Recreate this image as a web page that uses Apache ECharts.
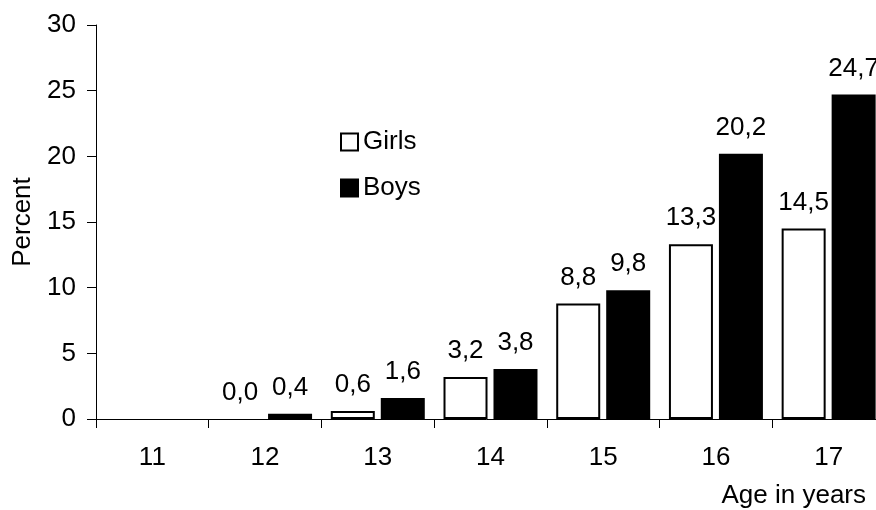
<!DOCTYPE html>
<html>
<head>
<meta charset="utf-8">
<script src="https://cdn.jsdelivr.net/npm/echarts@6/dist/echarts.min.js"></script>
<style>html,body{margin:0;padding:0;background:#fff}#c{width:876px;height:510px}</style>
</head>
<body>
<div id="c"></div>
<script>
var categories = ['11', '12', '13', '14', '15', '16', '17'];
var girls = [null, 0.0, 0.6, 3.2, 8.8, 13.3, 14.5];
var boys = [null, 0.4, 1.6, 3.8, 9.8, 20.2, 24.7];
var yTicks = [0, 5, 10, 15, 20, 25, 30];

var FONT = 'Liberation Sans';
var FS = 26;
function fmt(p) { return p.value == null ? '' : p.value.toFixed(1).replace('.', ','); }
// zero-height bars get no outline (nothing visible in the reference)
function prep(arr) {
  return arr.map(function (v) { return v === 0 ? {value: v, itemStyle: {borderWidth: 0}} : v; });
}

var chart = echarts.init(document.getElementById('c'), null, {renderer: 'canvas'});
chart.setOption({
  backgroundColor: '#ffffff',
  animation: false,
  textStyle: {fontFamily: FONT, color: '#000'},
  grid: {left: 96, top: 25, height: 394, width: 789, containLabel: false, outerBoundsMode: 'none'},
  legend: {
    orient: 'vertical', left: 340, top: 129, padding: 0,
    itemWidth: 17, itemHeight: 17, itemGap: 20,
    icon: 'rect',
    textStyle: {fontFamily: FONT, fontSize: FS, color: '#000'},
    data: ['Girls', 'Boys']
  },
  xAxis: {
    type: 'category', data: categories,
    axisLine: {lineStyle: {color: '#000', width: 1}},
    axisTick: {show: true, length: 9, lineStyle: {color: '#000'}},
    axisLabel: {fontFamily: FONT, fontSize: FS, color: '#000', margin: 26}
  },
  yAxis: {
    type: 'value', min: yTicks[0], max: yTicks[yTicks.length - 1], interval: 5,
    name: 'Percent', nameLocation: 'middle', nameRotate: 90, nameGap: 59,
    nameTextStyle: {fontFamily: FONT, fontSize: FS, color: '#000'},
    axisLine: {show: true, lineStyle: {color: '#000', width: 1}},
    axisTick: {show: true, length: 9, lineStyle: {color: '#000'}},
    splitLine: {show: false},
    axisLabel: {fontFamily: FONT, fontSize: FS, color: '#000', margin: 20}
  },
  graphic: [{
    type: 'text', right: 10, top: 483,
    style: {text: 'Age in years', fontFamily: FONT, fontSize: FS, fill: '#000'}
  }],
  series: [{
    name: 'Girls', type: 'bar', data: prep(girls), barWidth: 44, barGap: '13.6%',
    itemStyle: {color: '#fff', borderColor: '#000', borderWidth: 2},
    label: {show: true, position: 'top', distance: 13, formatter: fmt,
      fontFamily: FONT, fontSize: FS, color: '#000'}
  }, {
    name: 'Boys', type: 'bar', data: prep(boys), barWidth: 44,
    itemStyle: {color: '#000', borderColor: '#000', borderWidth: 2},
    label: {show: true, position: 'top', distance: 13, formatter: fmt,
      fontFamily: FONT, fontSize: FS, color: '#000'}
  }]
});
</script>
</body>
</html>
